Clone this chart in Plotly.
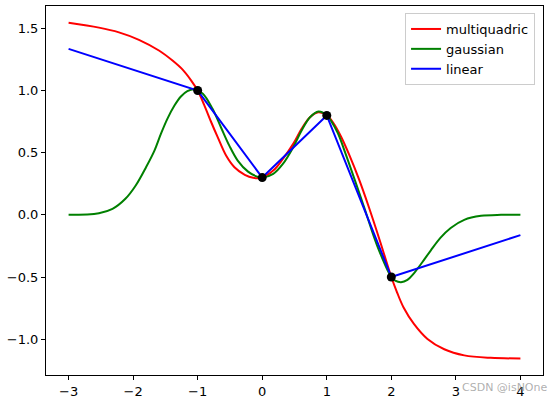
import plotly.graph_objects as go

# sample nodes
node_x = [-1, 0, 1, 2]
node_y = [1.0, 0.3, 0.8, -0.5]

# multiquadric curve
mq_x = [-3.0, -2.53, -2.22, -1.91, -1.60, -1.39, -1.23, -1.10, -1.0, -0.90, -0.79, -0.69,
        -0.56, -0.43, -0.27, -0.14, 0.0, 0.17, 0.32, 0.48, 0.61, 0.74, 0.87, 1.0, 1.10, 1.22,
        1.35, 1.50, 1.65, 1.83, 2.0, 2.09, 2.19, 2.35, 2.56, 2.82, 3.13, 3.54, 4.0]
mq_y = [1.545, 1.506, 1.468, 1.408, 1.322, 1.241, 1.166, 1.08, 1.0, 0.885, 0.745, 0.625,
        0.477, 0.383, 0.322, 0.298, 0.30, 0.356, 0.45, 0.571, 0.692, 0.785, 0.825, 0.80,
        0.74, 0.63, 0.48, 0.285, 0.065, -0.22, -0.5, -0.625, -0.745, -0.877, -0.998,
        -1.081, -1.13, -1.15, -1.155]

# gaussian curve
ga_x = [-3.0, -2.53, -2.32, -2.12, -1.96, -1.80, -1.67, -1.57, -1.47, -1.36, -1.26, -1.16,
        -1.05, -0.92, -0.77, -0.64, -0.51, -0.38, -0.22, -0.09, 0.0, 0.17, 0.32, 0.48, 0.61,
        0.74, 0.87, 1.0, 1.165, 1.285, 1.57, 1.78, 2.0, 2.06, 2.15, 2.25, 2.35, 2.48, 2.61,
        2.76, 2.92, 3.13, 3.39, 3.70, 4.0]
ga_y = [0.0, 0.013, 0.048, 0.129, 0.236, 0.383, 0.517, 0.651, 0.772, 0.879, 0.952, 0.995,
        1.01, 0.975, 0.853, 0.705, 0.557, 0.437, 0.348, 0.31, 0.30, 0.33, 0.41, 0.544, 0.678,
        0.785, 0.831, 0.80, 0.665, 0.50, 0.075, -0.247, -0.5, -0.529, -0.542, -0.523, -0.47,
        -0.381, -0.287, -0.185, -0.105, -0.04, -0.008, 0.0, 0.0]

# linear curve
li_x = [-3, -1, 0, 1, 2, 4]
li_y = [1.335, 1.0, 0.3, 0.8, -0.5, -0.163]

x_ticks = [-3, -2, -1, 0, 1, 2, 3, 4]
x_labels = ['\u22123', '\u22122', '\u22121', '0', '1', '2', '3', '4']
y_ticks = [-1.0, -0.5, 0.0, 0.5, 1.0, 1.5]
y_labels = ['\u22121.0', '\u22120.5', '0.0', '0.5', '1.0', '1.5']

fig = go.Figure()
fig.add_trace(go.Scatter(x=mq_x, y=mq_y, mode='lines', name='multiquadric',
                         line=dict(color='#ff0000', width=2, shape='spline', smoothing=1)))
fig.add_trace(go.Scatter(x=ga_x, y=ga_y, mode='lines', name='gaussian',
                         line=dict(color='#008000', width=2, shape='spline', smoothing=1)))
fig.add_trace(go.Scatter(x=li_x, y=li_y, mode='lines', name='linear',
                         line=dict(color='#0000ff', width=2)))
fig.add_trace(go.Scatter(x=node_x, y=node_y, mode='markers', showlegend=False,
                         marker=dict(color='black', size=9)))

axis_style = dict(showgrid=False, zeroline=False, showline=True, linecolor='black', linewidth=1,
                  mirror=True, ticks='outside', ticklen=4, tickcolor='black', automargin=False,
                  tickfont=dict(family='DejaVu Sans', size=13, color='black'))

fig.update_xaxes(range=[-3.35, 4.35], tickvals=x_ticks, ticktext=x_labels, **axis_style)
fig.update_yaxes(range=[-1.288, 1.680], tickvals=y_ticks, ticktext=y_labels, **axis_style)

fig.update_layout(
    width=555, height=401,
    margin=dict(l=46, r=12, t=6, b=26),
    plot_bgcolor='white', paper_bgcolor='white',
    font=dict(family='DejaVu Sans', size=13, color='black'),
    legend=dict(x=0.984, y=0.981, xanchor='right', yanchor='top',
                bgcolor='rgba(255,255,255,0.8)', bordercolor='#cccccc', borderwidth=1,
                font=dict(size=13), tracegroupgap=0, itemwidth=30),
    annotations=[dict(text='CSDN @isNOne', xref='paper', yref='paper', x=0.834, y=-0.033,
                      xanchor='left', yanchor='middle', showarrow=False,
                      font=dict(family='DejaVu Sans', size=11, color='rgba(140,140,140,0.7)'))],
)

# drop the default page margin so the figure sits at the window's corner
fig.write_html("out.html", config={'displayModeBar': False},
               post_script="document.body.style.margin='0px';")
